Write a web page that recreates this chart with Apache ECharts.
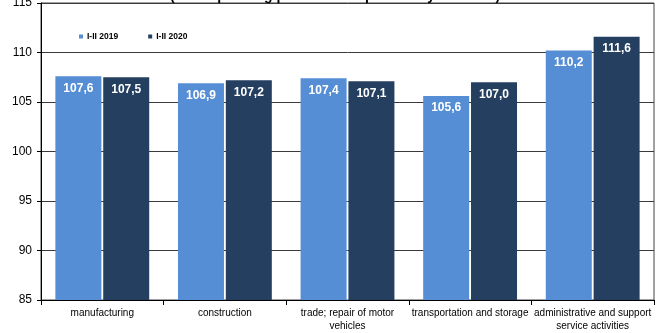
<!DOCTYPE html>
<html>
<head>
<meta charset="utf-8">
<script src="https://cdn.jsdelivr.net/npm/echarts@6/dist/echarts.min.js"></script>
<style>
  html, body { margin: 0; padding: 0; background: #ffffff; }
  #chart { width: 665px; height: 333px; }
</style>
</head>
<body>
<div id="chart"></div>
<script>
// Sections of the economy
const categories = [
  'manufacturing',
  'construction',
  'trade; repair of motor\nvehicles',
  'transportation and storage',
  'administrative and support\nservice activities'
];
// Indices, corresponding period of the previous year = 100
const seriesNames = ['I-II 2019', 'I-II 2020'];
const values2019 = [107.6, 106.9, 107.4, 105.6, 110.2];
const values2020 = [107.5, 107.2, 107.1, 107.0, 111.6];
const yTicks = { min: 85, max: 115, step: 5 };
const titleText = '(corresponding period of the previous year = 100)';

const FONT = '"Liberation Sans", Arial, sans-serif';
const fmt = v => v.toFixed(1).replace('.', ',');

const chart = echarts.init(document.getElementById('chart'), null, { renderer: 'canvas' });

const barLabel = {
  show: true,
  position: 'insideTop',
  distance: 6,
  color: '#ffffff',
  fontFamily: FONT,
  fontWeight: 'bold',
  fontSize: 12,
  formatter: p => fmt(p.value)
};

chart.setOption({
  animation: false,
  backgroundColor: '#ffffff',
  graphic: [{
    type: 'text',
    x: 335,
    y: 3,
    style: {
      text: titleText,
      textAlign: 'center',
      textVerticalAlign: 'bottom',
      fill: '#000000',
      font: 'bold 14px ' + FONT
    }
  }],
  legend: {
    left: 74,
    top: 27,
    icon: 'rect',
    itemWidth: 4,
    itemHeight: 4,
    itemGap: 30,
    textStyle: { fontFamily: FONT, fontWeight: 'bold', fontSize: 8.5, color: '#000000', padding: [0, 0, 0, -1] },
    data: seriesNames
  },
  grid: {
    left: 41,
    right: 11,
    top: 3,
    bottom: 33,
    show: true,
    borderColor: '#444444',
    borderWidth: 1,
    containLabel: false,
    outerBoundsMode: 'none'
  },
  xAxis: {
    type: 'category',
    data: categories,
    axisLine: { show: true, lineStyle: { color: '#000000', width: 1 } },
    axisTick: { show: true, length: 5, lineStyle: { color: '#000000' } },
    axisLabel: {
      interval: 0,
      margin: 7,
      color: '#000000',
      fontFamily: FONT,
      fontSize: 10,
      lineHeight: 13,
      hideOverlap: false
    }
  },
  yAxis: {
    type: 'value',
    min: yTicks.min,
    max: yTicks.max,
    interval: yTicks.step,
    axisLine: { show: true, lineStyle: { color: '#000000', width: 1 } },
    axisTick: { show: true, length: 4, lineStyle: { color: '#000000' } },
    axisLabel: { color: '#000000', fontFamily: FONT, fontSize: 12, margin: 9 },
    splitLine: { show: true, lineStyle: { color: '#3a3a3a', width: 1 } }
  },
  series: [
    {
      name: seriesNames[0],
      type: 'bar',
      data: values2019,
      barWidth: 46,
      barGap: '4%',
      itemStyle: { color: '#558ED5' },
      label: barLabel
    },
    {
      name: seriesNames[1],
      type: 'bar',
      data: values2020,
      barWidth: 46,
      itemStyle: { color: '#243F60' },
      label: barLabel
    }
  ]
});
</script>
</body>
</html>
